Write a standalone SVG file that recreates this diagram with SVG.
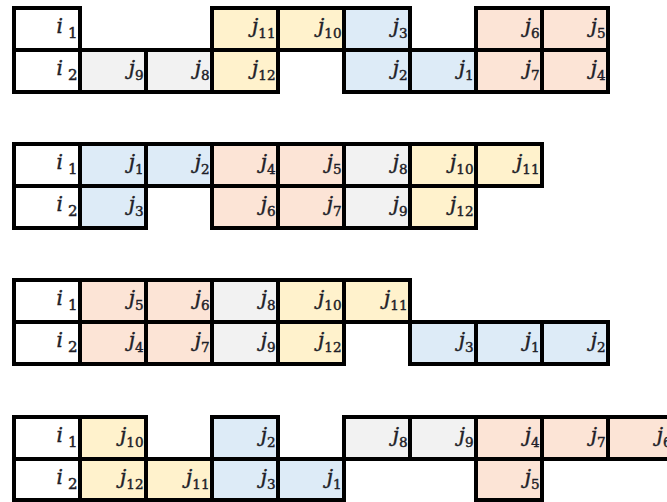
<svg xmlns="http://www.w3.org/2000/svg" width="667" height="502" viewBox="0 0 667 502">
<style>
rect{stroke:#000;stroke-width:4}
.w{fill:#fff}.y{fill:#FFF2CC}.b{fill:#DDEBF7}.s{fill:#FCE4D6}.g{fill:#F2F2F2}
text{font-family:"DejaVu Serif","Liberation Serif",serif;font-size:20px;fill:#1e1e28;stroke:#1e1e28;stroke-width:0.45;text-anchor:end}
.v{font-style:italic}
.u{font-size:13.5px}
.k{font-size:15px}
</style>
<g id="block1">
<g id="b1-i1"><rect class="w" x="14" y="8" width="66" height="42"/><text x="77.5" y="33"><tspan class="v">i</tspan><tspan class="k" dx="5" dy="5">1</tspan></text></g>
<g id="b1-j11"><rect class="y" x="212" y="8" width="66" height="42"/><text x="275.5" y="33"><tspan class="v">j</tspan><tspan class="u" dy="5">11</tspan></text></g>
<g id="b1-j10"><rect class="y" x="278" y="8" width="66" height="42"/><text x="341.5" y="33"><tspan class="v">j</tspan><tspan class="u" dy="5">10</tspan></text></g>
<g id="b1-j3"><rect class="b" x="344" y="8" width="66" height="42"/><text x="407.5" y="33"><tspan class="v">j</tspan><tspan class="u" dy="5">3</tspan></text></g>
<g id="b1-j6"><rect class="s" x="476" y="8" width="66" height="42"/><text x="539.5" y="33"><tspan class="v">j</tspan><tspan class="u" dy="5">6</tspan></text></g>
<g id="b1-j5"><rect class="s" x="542" y="8" width="66" height="42"/><text x="605.5" y="33"><tspan class="v">j</tspan><tspan class="u" dy="5">5</tspan></text></g>
<g id="b1-i2"><rect class="w" x="14" y="50" width="66" height="42"/><text x="77.5" y="75"><tspan class="v">i</tspan><tspan class="k" dx="5" dy="5">2</tspan></text></g>
<g id="b1-j9"><rect class="g" x="80" y="50" width="66" height="42"/><text x="143.5" y="75"><tspan class="v">j</tspan><tspan class="u" dy="5">9</tspan></text></g>
<g id="b1-j8"><rect class="g" x="146" y="50" width="66" height="42"/><text x="209.5" y="75"><tspan class="v">j</tspan><tspan class="u" dy="5">8</tspan></text></g>
<g id="b1-j12"><rect class="y" x="212" y="50" width="66" height="42"/><text x="275.5" y="75"><tspan class="v">j</tspan><tspan class="u" dy="5">12</tspan></text></g>
<g id="b1-j2"><rect class="b" x="344" y="50" width="66" height="42"/><text x="407.5" y="75"><tspan class="v">j</tspan><tspan class="u" dy="5">2</tspan></text></g>
<g id="b1-j1"><rect class="b" x="410" y="50" width="66" height="42"/><text x="473.5" y="75"><tspan class="v">j</tspan><tspan class="u" dy="5">1</tspan></text></g>
<g id="b1-j7"><rect class="s" x="476" y="50" width="66" height="42"/><text x="539.5" y="75"><tspan class="v">j</tspan><tspan class="u" dy="5">7</tspan></text></g>
<g id="b1-j4"><rect class="s" x="542" y="50" width="66" height="42"/><text x="605.5" y="75"><tspan class="v">j</tspan><tspan class="u" dy="5">4</tspan></text></g>
</g>
<g id="block2">
<g id="b2-i1"><rect class="w" x="14" y="144" width="66" height="42"/><text x="77.5" y="169"><tspan class="v">i</tspan><tspan class="k" dx="5" dy="5">1</tspan></text></g>
<g id="b2-j1"><rect class="b" x="80" y="144" width="66" height="42"/><text x="143.5" y="169"><tspan class="v">j</tspan><tspan class="u" dy="5">1</tspan></text></g>
<g id="b2-j2"><rect class="b" x="146" y="144" width="66" height="42"/><text x="209.5" y="169"><tspan class="v">j</tspan><tspan class="u" dy="5">2</tspan></text></g>
<g id="b2-j4"><rect class="s" x="212" y="144" width="66" height="42"/><text x="275.5" y="169"><tspan class="v">j</tspan><tspan class="u" dy="5">4</tspan></text></g>
<g id="b2-j5"><rect class="s" x="278" y="144" width="66" height="42"/><text x="341.5" y="169"><tspan class="v">j</tspan><tspan class="u" dy="5">5</tspan></text></g>
<g id="b2-j8"><rect class="g" x="344" y="144" width="66" height="42"/><text x="407.5" y="169"><tspan class="v">j</tspan><tspan class="u" dy="5">8</tspan></text></g>
<g id="b2-j10"><rect class="y" x="410" y="144" width="66" height="42"/><text x="473.5" y="169"><tspan class="v">j</tspan><tspan class="u" dy="5">10</tspan></text></g>
<g id="b2-j11"><rect class="y" x="476" y="144" width="66" height="42"/><text x="539.5" y="169"><tspan class="v">j</tspan><tspan class="u" dy="5">11</tspan></text></g>
<g id="b2-i2"><rect class="w" x="14" y="186" width="66" height="42"/><text x="77.5" y="211"><tspan class="v">i</tspan><tspan class="k" dx="5" dy="5">2</tspan></text></g>
<g id="b2-j3"><rect class="b" x="80" y="186" width="66" height="42"/><text x="143.5" y="211"><tspan class="v">j</tspan><tspan class="u" dy="5">3</tspan></text></g>
<g id="b2-j6"><rect class="s" x="212" y="186" width="66" height="42"/><text x="275.5" y="211"><tspan class="v">j</tspan><tspan class="u" dy="5">6</tspan></text></g>
<g id="b2-j7"><rect class="s" x="278" y="186" width="66" height="42"/><text x="341.5" y="211"><tspan class="v">j</tspan><tspan class="u" dy="5">7</tspan></text></g>
<g id="b2-j9"><rect class="g" x="344" y="186" width="66" height="42"/><text x="407.5" y="211"><tspan class="v">j</tspan><tspan class="u" dy="5">9</tspan></text></g>
<g id="b2-j12"><rect class="y" x="410" y="186" width="66" height="42"/><text x="473.5" y="211"><tspan class="v">j</tspan><tspan class="u" dy="5">12</tspan></text></g>
</g>
<g id="block3">
<g id="b3-i1"><rect class="w" x="14" y="280" width="66" height="42"/><text x="77.5" y="305"><tspan class="v">i</tspan><tspan class="k" dx="5" dy="5">1</tspan></text></g>
<g id="b3-j5"><rect class="s" x="80" y="280" width="66" height="42"/><text x="143.5" y="305"><tspan class="v">j</tspan><tspan class="u" dy="5">5</tspan></text></g>
<g id="b3-j6"><rect class="s" x="146" y="280" width="66" height="42"/><text x="209.5" y="305"><tspan class="v">j</tspan><tspan class="u" dy="5">6</tspan></text></g>
<g id="b3-j8"><rect class="g" x="212" y="280" width="66" height="42"/><text x="275.5" y="305"><tspan class="v">j</tspan><tspan class="u" dy="5">8</tspan></text></g>
<g id="b3-j10"><rect class="y" x="278" y="280" width="66" height="42"/><text x="341.5" y="305"><tspan class="v">j</tspan><tspan class="u" dy="5">10</tspan></text></g>
<g id="b3-j11"><rect class="y" x="344" y="280" width="66" height="42"/><text x="407.5" y="305"><tspan class="v">j</tspan><tspan class="u" dy="5">11</tspan></text></g>
<g id="b3-i2"><rect class="w" x="14" y="322" width="66" height="42"/><text x="77.5" y="347"><tspan class="v">i</tspan><tspan class="k" dx="5" dy="5">2</tspan></text></g>
<g id="b3-j4"><rect class="s" x="80" y="322" width="66" height="42"/><text x="143.5" y="347"><tspan class="v">j</tspan><tspan class="u" dy="5">4</tspan></text></g>
<g id="b3-j7"><rect class="s" x="146" y="322" width="66" height="42"/><text x="209.5" y="347"><tspan class="v">j</tspan><tspan class="u" dy="5">7</tspan></text></g>
<g id="b3-j9"><rect class="g" x="212" y="322" width="66" height="42"/><text x="275.5" y="347"><tspan class="v">j</tspan><tspan class="u" dy="5">9</tspan></text></g>
<g id="b3-j12"><rect class="y" x="278" y="322" width="66" height="42"/><text x="341.5" y="347"><tspan class="v">j</tspan><tspan class="u" dy="5">12</tspan></text></g>
<g id="b3-j3"><rect class="b" x="410" y="322" width="66" height="42"/><text x="473.5" y="347"><tspan class="v">j</tspan><tspan class="u" dy="5">3</tspan></text></g>
<g id="b3-j1"><rect class="b" x="476" y="322" width="66" height="42"/><text x="539.5" y="347"><tspan class="v">j</tspan><tspan class="u" dy="5">1</tspan></text></g>
<g id="b3-j2"><rect class="b" x="542" y="322" width="66" height="42"/><text x="605.5" y="347"><tspan class="v">j</tspan><tspan class="u" dy="5">2</tspan></text></g>
</g>
<g id="block4">
<g id="b4-i1"><rect class="w" x="14" y="417" width="66" height="42"/><text x="77.5" y="442"><tspan class="v">i</tspan><tspan class="k" dx="5" dy="5">1</tspan></text></g>
<g id="b4-j10"><rect class="y" x="80" y="417" width="66" height="42"/><text x="143.5" y="442"><tspan class="v">j</tspan><tspan class="u" dy="5">10</tspan></text></g>
<g id="b4-j2"><rect class="b" x="212" y="417" width="66" height="42"/><text x="275.5" y="442"><tspan class="v">j</tspan><tspan class="u" dy="5">2</tspan></text></g>
<g id="b4-j8"><rect class="g" x="344" y="417" width="66" height="42"/><text x="407.5" y="442"><tspan class="v">j</tspan><tspan class="u" dy="5">8</tspan></text></g>
<g id="b4-j9"><rect class="g" x="410" y="417" width="66" height="42"/><text x="473.5" y="442"><tspan class="v">j</tspan><tspan class="u" dy="5">9</tspan></text></g>
<g id="b4-j4"><rect class="s" x="476" y="417" width="66" height="42"/><text x="539.5" y="442"><tspan class="v">j</tspan><tspan class="u" dy="5">4</tspan></text></g>
<g id="b4-j7"><rect class="s" x="542" y="417" width="66" height="42"/><text x="605.5" y="442"><tspan class="v">j</tspan><tspan class="u" dy="5">7</tspan></text></g>
<g id="b4-j6"><rect class="s" x="608" y="417" width="66" height="42"/><text x="671.5" y="442"><tspan class="v">j</tspan><tspan class="u" dy="5">6</tspan></text></g>
<g id="b4-i2"><rect class="w" x="14" y="459" width="66" height="41"/><text x="77.5" y="484"><tspan class="v">i</tspan><tspan class="k" dx="5" dy="5">2</tspan></text></g>
<g id="b4-j12"><rect class="y" x="80" y="459" width="66" height="41"/><text x="143.5" y="484"><tspan class="v">j</tspan><tspan class="u" dy="5">12</tspan></text></g>
<g id="b4-j11"><rect class="y" x="146" y="459" width="66" height="41"/><text x="209.5" y="484"><tspan class="v">j</tspan><tspan class="u" dy="5">11</tspan></text></g>
<g id="b4-j3"><rect class="b" x="212" y="459" width="66" height="41"/><text x="275.5" y="484"><tspan class="v">j</tspan><tspan class="u" dy="5">3</tspan></text></g>
<g id="b4-j1"><rect class="b" x="278" y="459" width="66" height="41"/><text x="341.5" y="484"><tspan class="v">j</tspan><tspan class="u" dy="5">1</tspan></text></g>
<g id="b4-j5"><rect class="s" x="476" y="459" width="66" height="41"/><text x="539.5" y="484"><tspan class="v">j</tspan><tspan class="u" dy="5">5</tspan></text></g>
</g>
<g id="connectors"/>
</svg>
